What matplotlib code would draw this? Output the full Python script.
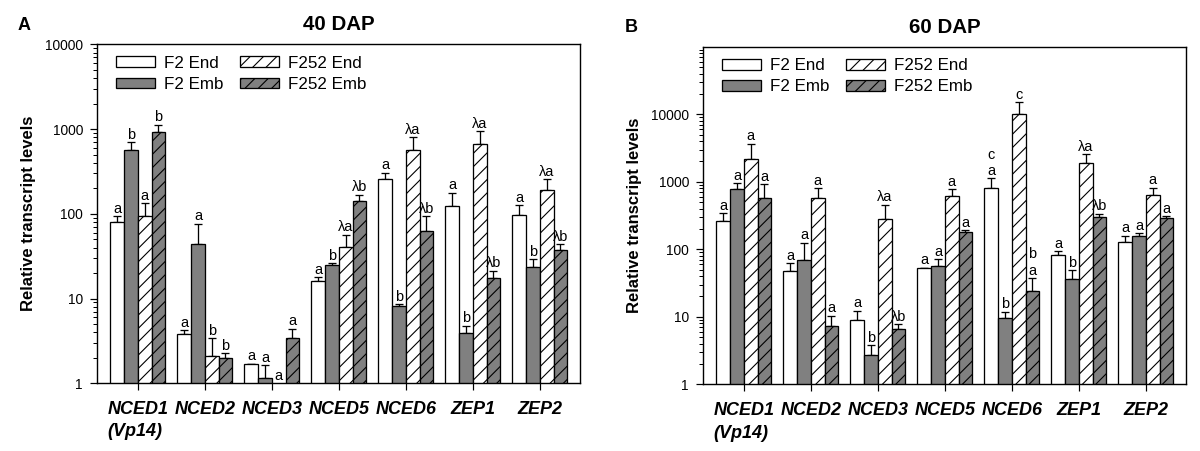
import numpy as np
import matplotlib
matplotlib.use("Agg")
import matplotlib.pyplot as plt
from matplotlib.ticker import FixedLocator, NullFormatter

plt.rcParams["font.family"] = ["Liberation Sans", "DejaVu Sans"]
plt.rcParams["hatch.linewidth"] = 1.0

DPI = 80  # hatch spacing follows dpi


def pt(px):
    # pixel size -> points at this dpi
    return px * 72.0 / DPI


genes = ["NCED1\n(Vp14)", "NCED2", "NCED3", "NCED5", "NCED6", "ZEP1", "ZEP2"]
series = ["F2 End", "F2 Emb", "F252 End", "F252 Emb"]

# 40 DAP, rows = series, columns = genes
mean_40 = [
    [79, 3.8, 1.7, 16.3, 255, 124, 97],
    [561, 44, 1.16, 24.9, 8.2, 3.9, 23.4],
    [94, 2.1, 0.9, 40.6, 566, 661, 191],
    [923, 2.0, 3.4, 143, 63, 17.6, 37],
]
err_40 = [
    [15, 0.4, 0, 1.6, 50, 53, 29],
    [137, 32, 0.47, 1.3, 0.35, 0.9, 5.6],
    [39, 1.3, 0, 16, 234, 287, 64],
    [194, 0.27, 1.0, 25, 31, 3.7, 7],
]
sig_40 = [
    ["a", "a", "a", "a", "a", "a", "a"],
    ["b", "a", "a", "b", "b", "b", "b"],
    ["a", "b", "a", "λa", "λa", "λa", "λa"],
    ["b", "b", "a", "λb", "λb", "λb", "λb"],
]

# 60 DAP
mean_60 = [
    [265, 48, 9.0, 52.5, 797, 83, 128],
    [781, 69, 2.7, 56, 9.5, 36, 159],
    [2155, 582, 279, 617, 10070, 1901, 638],
    [569, 7.2, 6.5, 183, 23.8, 296, 286],
]
err_60 = [
    [78, 14, 3.3, 1, 321, 11, 31],
    [163, 56, 1.1, 15, 2.4, 13, 15],
    [1495, 215, 176, 154, 4900, 650, 178],
    [343, 3.2, 1.3, 8, 13.6, 40, 23],
]
sig_60 = [
    ["a", "a", "a", "a", "c\na", "a", "a"],
    ["a", "a", "b", "a", "b", "b", "a"],
    ["a", "a", "λa", "a", "c", "λa", "a"],
    ["a", "a", "λb", "a", "b\na", "λb", "a"],
]

colors = ["white", "#808080", "white", "#808080"]
hatches = [None, None, "//", "//"]
yticks = [1, 10, 100, 1000, 10000]


def draw_panel(ax, means, errs, sigs, title, letter, ytop, letter_xy):
    x = np.arange(len(genes))
    w = 0.205
    handles = []
    for i in range(4):
        xs = x + (i - 1.5) * w
        m = np.array(means[i], dtype=float)
        e = np.array(errs[i], dtype=float)
        b = ax.bar(xs, m, width=w, color=colors[i], edgecolor="black",
                   linewidth=pt(1.3), hatch=hatches[i], label=series[i], zorder=2)
        handles.append(b)
        ax.errorbar(xs, m, yerr=[np.zeros_like(e), e], fmt="none", ecolor="black",
                    elinewidth=pt(1.3), capsize=pt(4), capthick=pt(1.3), zorder=1)
        for xi, mi, ei, s in zip(xs, m, e, sigs[i]):
            ax.annotate(s, (xi, max(mi + ei, 1.0)), xytext=(0, pt(0.5)),
                        textcoords="offset points", ha="center", va="bottom",
                        fontsize=pt(14.5), linespacing=1.2, zorder=3)

    ax.set_yscale("log")
    ax.set_ylim(1, ytop)
    ax.set_xlim(-0.61, 6.6)
    ax.yaxis.set_major_locator(FixedLocator(yticks))
    ax.set_yticklabels([str(t) for t in yticks])
    minors = [k * 10 ** d for d in range(5) for k in range(2, 10) if k * 10 ** d < ytop]
    ax.yaxis.set_minor_locator(FixedLocator(minors))
    ax.yaxis.set_minor_formatter(NullFormatter())
    ax.tick_params(axis="y", which="major", length=pt(7), width=pt(1.2),
                   labelsize=pt(13.8), pad=pt(7), right=False)
    ax.tick_params(axis="y", which="minor", length=pt(4), width=pt(1), right=False)

    ax.set_xticks(x)
    ax.set_xticklabels(genes, fontweight="bold", style="italic",
                       fontsize=pt(18), multialignment="left", linespacing=1.4)
    ax.tick_params(axis="x", length=pt(7), width=pt(1.2), pad=pt(11), top=False)
    for sp in ax.spines.values():
        sp.set_linewidth(pt(1.4))

    ax.set_ylabel("Relative transcript levels", fontweight="bold", fontsize=pt(16.7))
    ax.yaxis.set_label_coords(-0.126, 0.5)
    ax.set_title(title, fontweight="bold", fontsize=pt(20.5), pad=pt(14))

    ax.legend(handles=handles, labels=series, ncol=2, frameon=False,
              loc="upper left", bbox_to_anchor=(0.04, 0.966), borderaxespad=0,
              borderpad=0, fontsize=pt(17), handlelength=2.25, handleheight=0.6,
              handletextpad=0.55, columnspacing=1.0, labelspacing=0.36)

    fig.text(letter_xy[0], letter_xy[1], letter, fontweight="bold",
             fontsize=pt(18), ha="left", va="baseline")


fig = plt.figure(figsize=(1200 / DPI, 451 / DPI), dpi=DPI)
ax_a = fig.add_axes([97 / 1200, 67.7 / 451, 483 / 1200, 339 / 451])
ax_b = fig.add_axes([703 / 1200, 66.7 / 451, 483 / 1200, 337.6 / 451])

draw_panel(ax_a, mean_40, err_40, sig_40, "40 DAP", "A", 1e4, (18 / 1200, 1 - 30 / 451))
draw_panel(ax_b, mean_60, err_60, sig_60, "60 DAP", "B", 1e5, (625 / 1200, 1 - 31.5 / 451))

fig.savefig("out.png", dpi=DPI)
